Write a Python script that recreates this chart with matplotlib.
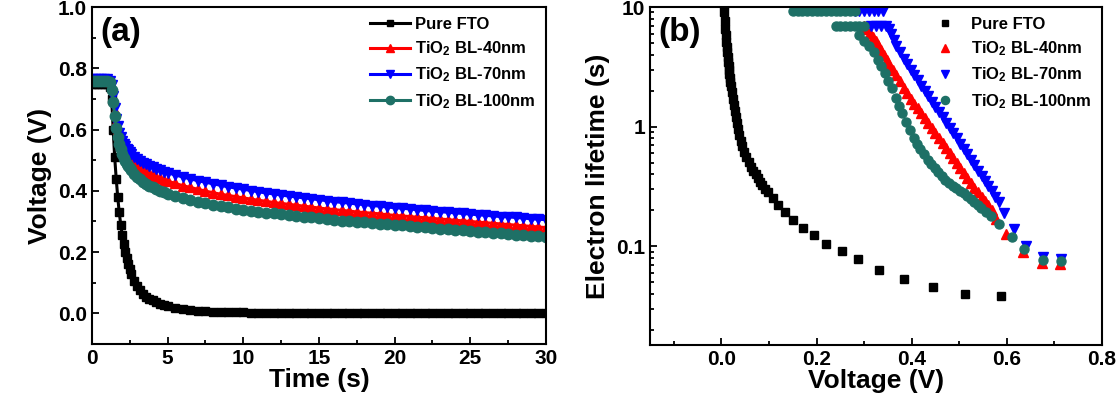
import numpy as np
import matplotlib
matplotlib.use('Agg')
from matplotlib import pyplot as plt
from matplotlib.ticker import MultipleLocator, LogLocator, NullFormatter

plt.rcParams['font.family'] = ['Liberation Sans', 'DejaVu Sans']
plt.rcParams['font.weight'] = 'bold'
plt.rcParams['mathtext.fontset'] = 'custom'
plt.rcParams['mathtext.rm'] = 'Liberation Sans:bold'
plt.rcParams['mathtext.it'] = 'Liberation Sans:bold'
plt.rcParams['mathtext.bf'] = 'Liberation Sans:bold'

labels = ['Pure FTO', 'TiO$_2$ BL-40nm', 'TiO$_2$ BL-70nm', 'TiO$_2$ BL-100nm']
colors = ['black', '#ff0000', '#0000ff', '#1e7066']

# (a) open-circuit voltage decay
time_s = [0, 0.2, 0.4, 0.6, 0.8, 1.0, 1.2, 1.3, 1.4, 1.5, 1.6, 1.7, 1.8, 1.9, 2.0, 2.1,
          2.2, 2.3, 2.4, 2.5, 2.6, 2.8, 3.0, 3.2, 3.4, 3.6, 3.8, 4.0, 4.25, 4.5, 4.75, 5.0,
          5.5, 6.0, 6.5, 7.0, 7.5, 8.0, 8.5, 9.0, 9.5, 10.0,
          10.5, 11.0, 11.5, 12.0, 12.5, 13.0, 13.5, 14.0, 14.5, 15.0,
          15.5, 16.0, 16.5, 17.0, 17.5, 18.0, 18.5, 19.0, 19.5, 20.0,
          20.5, 21.0, 21.5, 22.0, 22.5, 23.0, 23.5, 24.0, 24.5, 25.0,
          25.5, 26.0, 26.5, 27.0, 27.5, 28.0, 28.5, 29.0, 29.5, 30.0]

v_fto = [0.75, 0.75, 0.75, 0.75, 0.75, 0.75, 0.74, 0.70, 0.60, 0.51, 0.44, 0.38, 0.33, 0.29, 0.255, 0.225,
         0.20, 0.18, 0.16, 0.145, 0.13, 0.105, 0.088, 0.075, 0.064, 0.055, 0.048, 0.042, 0.036, 0.031, 0.027, 0.023,
         0.018, 0.014, 0.011, 0.009, 0.007, 0.006, 0.005, 0.004, 0.0035, 0.003,
         0.0027, 0.0025, 0.0022, 0.002, 0.0018, 0.0016, 0.0015, 0.0014, 0.0013, 0.0012,
         0.0011, 0.001, 0.001, 0.0009, 0.0009, 0.0008, 0.0008, 0.0007, 0.0007, 0.0006,
         0.0006, 0.0005, 0.0005, 0.0005, 0.0004, 0.0004, 0.0004, 0.0003, 0.0003, 0.0003,
         0.0002, 0.0002, 0.0002, 0.0002, 0.0001, 0.0001, 0.0001, 0.0001, 0.0, 0.0]

v_40 = [0.765, 0.765, 0.765, 0.765, 0.765, 0.765, 0.76, 0.74, 0.70, 0.66, 0.625, 0.60, 0.58, 0.563, 0.55, 0.539,
        0.53, 0.522, 0.515, 0.509, 0.503, 0.493, 0.484, 0.476, 0.469, 0.463, 0.457, 0.452, 0.446, 0.441, 0.436, 0.432,
        0.424, 0.417, 0.411, 0.405, 0.399, 0.394, 0.389, 0.385, 0.381, 0.377,
        0.373, 0.369, 0.366, 0.362, 0.359, 0.356, 0.353, 0.350, 0.347, 0.344,
        0.341, 0.339, 0.336, 0.334, 0.331, 0.329, 0.327, 0.325, 0.322, 0.320,
        0.318, 0.316, 0.314, 0.312, 0.310, 0.308, 0.306, 0.304, 0.302, 0.300,
        0.298, 0.296, 0.294, 0.292, 0.290, 0.288, 0.286, 0.284, 0.282, 0.280]

v_70 = [0.765, 0.765, 0.765, 0.765, 0.765, 0.765, 0.76, 0.745, 0.71, 0.67, 0.635, 0.61, 0.59, 0.575, 0.563, 0.553,
        0.545, 0.538, 0.532, 0.526, 0.521, 0.512, 0.504, 0.497, 0.491, 0.486, 0.481, 0.477, 0.472, 0.467, 0.463, 0.459,
        0.452, 0.445, 0.439, 0.433, 0.428, 0.423, 0.418, 0.413, 0.409, 0.405,
        0.401, 0.397, 0.393, 0.390, 0.386, 0.383, 0.380, 0.377, 0.374, 0.371,
        0.368, 0.365, 0.362, 0.360, 0.357, 0.355, 0.352, 0.350, 0.347, 0.345,
        0.343, 0.341, 0.338, 0.336, 0.334, 0.332, 0.330, 0.328, 0.326, 0.324,
        0.322, 0.320, 0.318, 0.316, 0.315, 0.313, 0.311, 0.309, 0.307, 0.306]

v_100 = [0.76, 0.76, 0.76, 0.76, 0.76, 0.76, 0.755, 0.73, 0.69, 0.645, 0.605, 0.575, 0.553, 0.535, 0.52, 0.508,
         0.497, 0.488, 0.48, 0.473, 0.467, 0.456, 0.446, 0.437, 0.430, 0.423, 0.417, 0.412, 0.406, 0.400, 0.395, 0.391,
         0.383, 0.376, 0.370, 0.364, 0.359, 0.354, 0.350, 0.346, 0.342, 0.339,
         0.335, 0.332, 0.329, 0.326, 0.323, 0.320, 0.318, 0.315, 0.313, 0.310,
         0.308, 0.305, 0.303, 0.301, 0.299, 0.297, 0.295, 0.293, 0.291, 0.289,
         0.287, 0.285, 0.283, 0.281, 0.279, 0.277, 0.275, 0.273, 0.271, 0.269,
         0.267, 0.265, 0.263, 0.261, 0.259, 0.257, 0.255, 0.253, 0.251, 0.248]

# (b) electron lifetime vs voltage
fto_v = [0.005, 0.006, 0.007, 0.008, 0.009, 0.010, 0.011, 0.012, 0.013, 0.014, 0.015, 0.016, 0.017,
         0.018, 0.019, 0.020, 0.022, 0.024, 0.026, 0.028, 0.030, 0.032, 0.035, 0.038, 0.041, 0.044,
         0.048, 0.052, 0.057, 0.062, 0.067, 0.072, 0.077, 0.082, 0.086, 0.091, 0.097, 0.108, 0.119,
         0.134, 0.151, 0.171, 0.195, 0.220, 0.253, 0.287, 0.331, 0.383, 0.445, 0.513, 0.588]
fto_tau = [10.5, 9.0, 7.6, 6.6, 5.8, 5.1, 4.6, 4.2, 3.8, 3.5, 3.2, 2.95, 2.75,
           2.55, 2.35, 2.2, 1.95, 1.72, 1.52, 1.35, 1.2, 1.08, 0.95, 0.85, 0.76, 0.69,
           0.62, 0.56, 0.51, 0.465, 0.43, 0.40, 0.37, 0.345, 0.323, 0.303, 0.284, 0.253, 0.222,
           0.195, 0.166, 0.142, 0.125, 0.105, 0.091, 0.078, 0.064, 0.053, 0.046, 0.040, 0.0385]

bl40_v = [0.300, 0.305, 0.312, 0.318, 0.324, 0.330, 0.336, 0.342, 0.348, 0.353, 0.360, 0.367, 0.375,
          0.383, 0.390, 0.398, 0.405, 0.413, 0.420, 0.428, 0.435, 0.443, 0.450, 0.458, 0.465, 0.473,
          0.480, 0.487, 0.495, 0.502, 0.510, 0.517, 0.525, 0.532, 0.540, 0.547, 0.554, 0.561, 0.569,
          0.577, 0.599, 0.633, 0.673, 0.711]
bl40_tau = [7.0, 6.6, 6.1, 5.6, 5.2, 4.8, 4.4, 4.0, 3.6, 3.3, 3.0, 2.7, 2.4,
            2.1, 1.9, 1.7, 1.55, 1.42, 1.3, 1.18, 1.07, 0.97, 0.88, 0.80, 0.73, 0.66,
            0.60, 0.55, 0.50, 0.45, 0.41, 0.37, 0.34, 0.31, 0.285, 0.26, 0.24, 0.22, 0.20,
            0.17, 0.127, 0.089, 0.073, 0.071]

bl70_v = [0.280, 0.290, 0.300, 0.310, 0.320, 0.330, 0.340, 0.315, 0.325, 0.335, 0.345, 0.352,
          0.356, 0.362, 0.368, 0.375, 0.383, 0.390, 0.398, 0.405, 0.413, 0.420, 0.428, 0.435,
          0.443, 0.450, 0.458, 0.465, 0.473, 0.480, 0.487, 0.495, 0.502, 0.510, 0.517, 0.525,
          0.532, 0.540, 0.547, 0.554, 0.561, 0.569, 0.576, 0.584, 0.595, 0.614, 0.640, 0.677, 0.714]
bl70_tau = [9.3, 9.3, 9.3, 9.3, 9.3, 9.3, 9.3, 7.0, 7.0, 7.0, 6.9, 6.5,
            6.0, 5.3, 4.7, 4.2, 3.7, 3.35, 3.0, 2.7, 2.45, 2.2, 2.0, 1.8,
            1.62, 1.47, 1.33, 1.2, 1.08, 0.97, 0.88, 0.80, 0.72, 0.65, 0.59, 0.53,
            0.48, 0.43, 0.39, 0.35, 0.32, 0.29, 0.26, 0.235, 0.19, 0.14, 0.101, 0.081, 0.079]

bl100_v = [0.150, 0.160, 0.170, 0.180, 0.190, 0.200, 0.210, 0.220, 0.230, 0.240, 0.250, 0.260, 0.270, 0.280,
           0.240, 0.250, 0.260, 0.270, 0.280, 0.290, 0.300,
           0.290, 0.300, 0.310, 0.321, 0.330, 0.336, 0.343, 0.351, 0.358, 0.366, 0.373, 0.380,
           0.388, 0.396, 0.404, 0.411, 0.418, 0.426, 0.434, 0.441, 0.449, 0.456, 0.464, 0.471,
           0.479, 0.486, 0.494, 0.501, 0.509, 0.516, 0.524, 0.531, 0.539, 0.546, 0.556, 0.566,
           0.584, 0.610, 0.636, 0.677, 0.714]
bl100_tau = [9.3, 9.3, 9.3, 9.3, 9.3, 9.3, 9.3, 9.3, 9.3, 9.3, 9.3, 9.3, 9.3, 9.3,
             6.9, 6.9, 6.9, 6.9, 6.9, 6.9, 6.9,
             5.8, 5.2, 4.7, 4.2, 3.6, 3.2, 2.8, 2.4, 2.1, 1.75, 1.5, 1.3,
             1.1, 0.93, 0.81, 0.72, 0.65, 0.59, 0.53, 0.49, 0.45, 0.42, 0.39, 0.36,
             0.34, 0.32, 0.305, 0.29, 0.28, 0.265, 0.25, 0.235, 0.222, 0.21, 0.195, 0.18,
             0.154, 0.12, 0.095, 0.077, 0.076]

fig = plt.figure(figsize=(11.19, 4.03), dpi=100)
ax1 = fig.add_axes([0.0822, 0.1464, 0.4057, 0.8362])
ax2 = fig.add_axes([0.5809, 0.1439, 0.4039, 0.8387])

# panel (a)
series_a = [v_fto, v_40, v_70, v_100]
markers_a = ['s', '^', 'v', 'o']
sizes_a = [5.5, 7.5, 7.5, 7.5]
for v, c, m, s, lab in zip(series_a, colors, markers_a, sizes_a, labels):
    ax1.plot(time_s, v, color=c, marker=m, ms=s, lw=2.2, label=lab)
ax1.set_xlim(0, 30)
ax1.set_ylim(-0.1, 1.0)
ax1.xaxis.set_major_locator(MultipleLocator(5))
ax1.xaxis.set_minor_locator(MultipleLocator(2.5))
ax1.yaxis.set_major_locator(MultipleLocator(0.2))
ax1.yaxis.set_minor_locator(MultipleLocator(0.1))
ax1.set_yticks([0.0, 0.2, 0.4, 0.6, 0.8, 1.0])
ax1.set_xlabel('Time (s)', fontsize=19, fontweight='bold', labelpad=0)
ax1.set_ylabel('Voltage (V)', fontsize=19, fontweight='bold', labelpad=4)
ax1.text(0.018, 0.925, '(a)', transform=ax1.transAxes, fontsize=24, fontweight='bold', va='center')
ax1.legend(loc='upper right', frameon=False, fontsize=12, handlelength=2.4, handletextpad=0.3,
           labelspacing=0.45, borderaxespad=0.2, markerscale=0.8)

# panel (b)
series_b = [(fto_v, fto_tau), (bl40_v, bl40_tau), (bl70_v, bl70_tau), (bl100_v, bl100_tau)]
markers_b = ['s', '^', 'v', 'o']
sizes_b = [5.5, 6.5, 6.5, 6.5]
for (x, y), c, m, s, lab in zip(series_b, colors, markers_b, sizes_b, labels):
    ax2.plot(x, y, ls='none', color=c, marker=m, ms=s, label=lab)
ax2.set_yscale('log')
ax2.set_xlim(-0.15, 0.8)
ax2.set_ylim(0.015, 10)
ax2.xaxis.set_major_locator(MultipleLocator(0.2))
ax2.xaxis.set_minor_locator(MultipleLocator(0.1))
ax2.set_yticks([0.1, 1, 10])
ax2.set_yticklabels(['0.1', '1', '10'])
ax2.yaxis.set_minor_locator(LogLocator(base=10, subs=np.arange(2, 10)))
ax2.yaxis.set_minor_formatter(NullFormatter())
ax2.set_xlabel('Voltage (V)', fontsize=19, fontweight='bold', labelpad=0)
ax2.set_ylabel('Electron lifetime (s)', fontsize=19, fontweight='bold', labelpad=4)
ax2.text(0.018, 0.925, '(b)', transform=ax2.transAxes, fontsize=24, fontweight='bold', va='center')
ax2.legend(loc='upper right', frameon=False, fontsize=12, handlelength=1.4, handletextpad=0.9,
           labelspacing=0.45, borderaxespad=0.2, markerscale=0.9)

for ax in (ax1, ax2):
    for sp in ax.spines.values():
        sp.set_linewidth(1.5)
    ax.tick_params(which='both', direction='in', width=1.3, labelsize=15)
    ax.tick_params(which='major', length=5)
    ax.tick_params(which='minor', length=3)
    for t in ax.get_xticklabels() + ax.get_yticklabels():
        t.set_fontweight('bold')

fig.savefig('out.png', dpi=100)
